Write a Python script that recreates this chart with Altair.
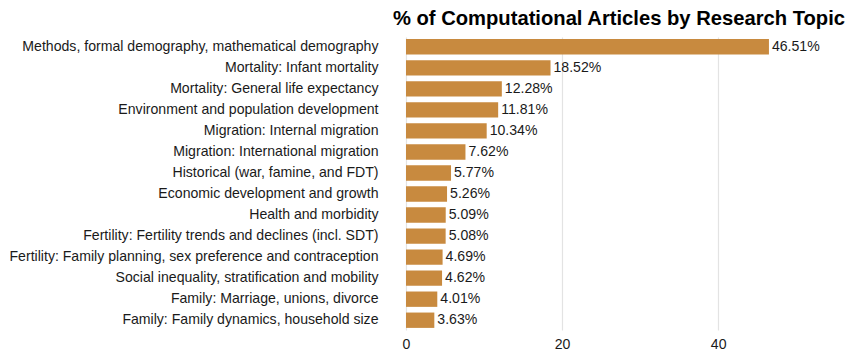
import altair as alt
import pandas as pd

topics = [
    "Methods, formal demography, mathematical demography",
    "Mortality: Infant mortality",
    "Mortality: General life expectancy",
    "Environment and population development",
    "Migration: Internal migration",
    "Migration: International migration",
    "Historical (war, famine, and FDT)",
    "Economic development and growth",
    "Health and morbidity",
    "Fertility: Fertility trends and declines (incl. SDT)",
    "Fertility: Family planning, sex preference and contraception",
    "Social inequality, stratification and mobility",
    "Family: Marriage, unions, divorce",
    "Family: Family dynamics, household size",
]
values = [46.51, 18.52, 12.28, 11.81, 10.34, 7.62, 5.77, 5.26, 5.09, 5.08, 4.69, 4.62, 4.01, 3.63]
tick_values = [0, 20, 40]

df = pd.DataFrame({"topic": topics, "pct": values})
df["label"] = df["pct"].map(lambda v: f"{v:.2f}%")

FONT = "Liberation Sans"
FS = 14.1

y = alt.Y("topic:N", sort=topics, title=None,
          axis=alt.Axis(ticks=False, domain=False, labelPadding=28, labelFontSize=FS,
                        labelColor="#1a1a1a", labelFont=FONT, labelLimit=420),
          scale=alt.Scale(paddingInner=0.27, paddingOuter=0.1))
x = alt.X("pct:Q", title=None,
          scale=alt.Scale(domain=[0, 56], nice=False, zero=True),
          axis=alt.Axis(values=tick_values, ticks=False, domain=False, grid=True,
                        gridColor="#e3e3e3", gridWidth=1.2, labelFontSize=FS,
                        labelColor="#1a1a1a", labelFont=FONT, labelPadding=7,
                        labelFlush=False))

bars = alt.Chart(df).mark_bar(color="#C88A3F").encode(x=x, y=y)
text = alt.Chart(df).mark_text(align="left", baseline="middle", dx=3, fontSize=FS,
                               font=FONT, color="#1a1a1a").encode(
    x="pct:Q", y=alt.Y("topic:N", sort=topics), text="label:N")

chart = (bars + text).properties(
    width=437, height=293,
    title=alt.Title("% of Computational Articles by Research Topic", font=FONT,
                    fontSize=20.2, fontWeight="bold", anchor="end", dx=2,
                    color="#000000", offset=8),
    autosize=alt.AutoSizeParams(type="none"),
    padding={"left": 398, "top": 29, "right": 14, "bottom": 25},
).configure_view(stroke=None)

chart.save("out.html", embed_options={"renderer": "svg", "actions": False})
